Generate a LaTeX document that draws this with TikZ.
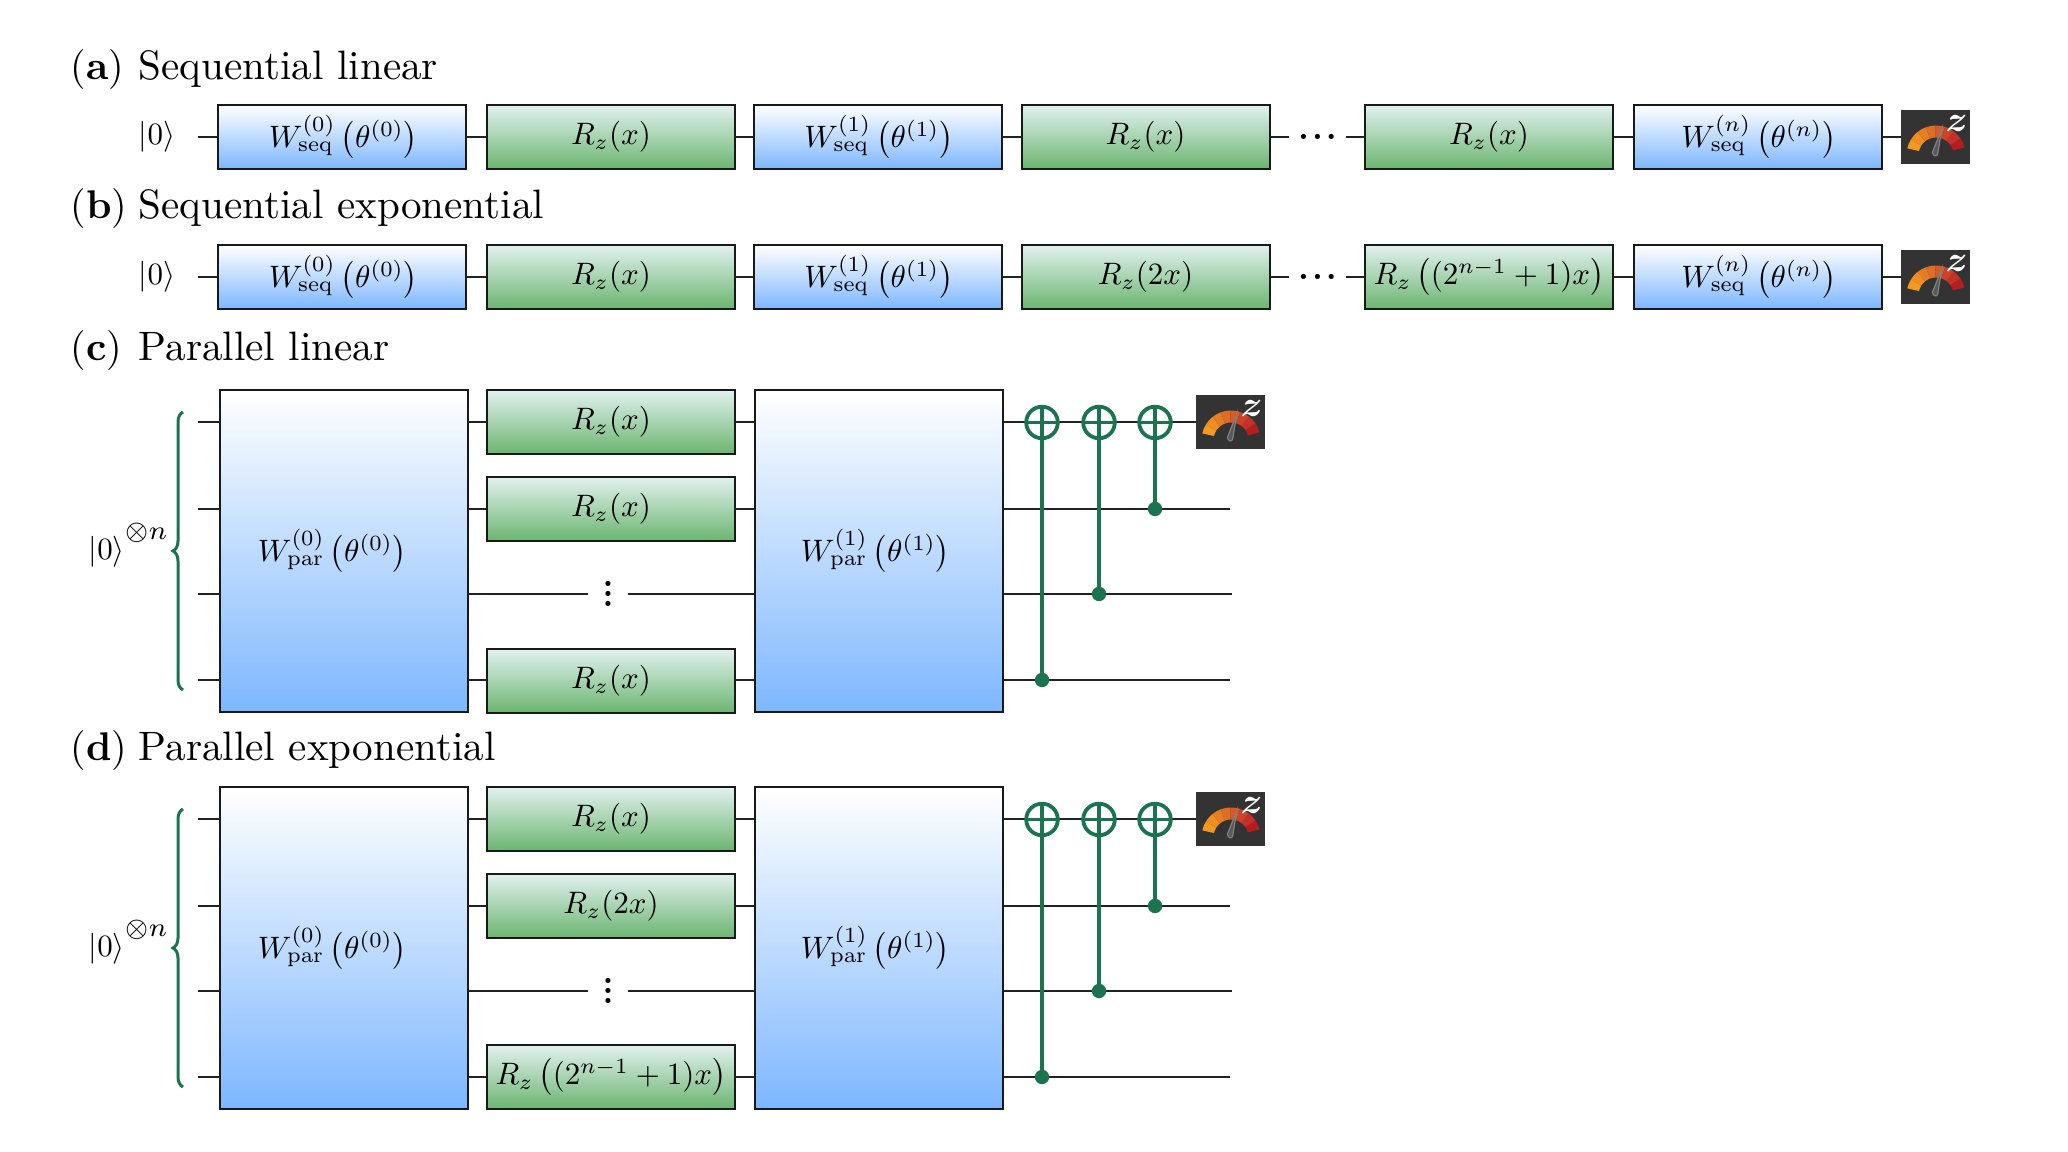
\documentclass[tikz,border=0pt]{standalone}
\usepackage{amsmath}
\usepackage{graphicx}
\usetikzlibrary{decorations.pathreplacing}
\definecolor{cgreen}{HTML}{1B7350}
\definecolor{wirec}{HTML}{222222}
\definecolor{mbg}{HTML}{333333}
\definecolor{blue1}{HTML}{7DB7FF}
\definecolor{green1}{HTML}{E1F1EF}
\definecolor{green2}{HTML}{6BB56F}
\tikzset{
  x=0.25pt,y=-0.25pt,
  gatebox/.style={draw=black!90,line width=0.5pt,inner sep=0pt,outer sep=0pt,minimum width=62pt,minimum height=16pt,text=black},
  bluebox/.style={gatebox,shade,top color=white,bottom color=blue1},
  greenbox/.style={gatebox,shade,top color=green1,bottom color=green2},
  bigbox/.style={bluebox,minimum height=80.5pt},
  wire/.style={draw=wirec,line width=0.5pt},
  heading/.style={anchor=base west,inner sep=0pt,text=black},
  txt/.style={inner sep=0pt,text=black},
  target/.style={circle,draw=cgreen,line width=0.95pt,minimum size=7.9pt,inner sep=0pt,outer sep=0pt},
  ctrl/.style={circle,fill=cgreen,minimum size=3.6pt,inner sep=0pt,outer sep=0pt},
  cnotline/.style={draw=cgreen,line width=0.85pt},
  gbrace/.style={draw=cgreen,line width=0.75pt,decorate,decoration={brace,amplitude=2.5pt,aspect=0.5}},
  meterbox/.style={fill=mbg,minimum width=17.25pt,minimum height=13.5pt,inner sep=0pt,outer sep=0pt},
}
\newcommand{\Mth}[1]{\raisebox{-0.25pt}{\scalebox{0.775}{$#1$}}}
\newcommand{\Wseq}[1]{\hspace*{0.75pt}\Mth{W^{(#1)}_{\mathrm{seq}}\left(\theta^{(#1)}\right)}}
\newcommand{\Wpar}[1]{\hspace*{0.75pt}\Mth{W^{(#1)}_{\mathrm{par}}\left(\theta^{(#1)}\right)}}
\newcommand{\KetN}{\Mth{|0\rangle\raisebox{6.7pt}{\scalebox{1.22}{$\scriptstyle\otimes n$}}}}
\newcommand{\Ttl}[1]{\scalebox{1.027}{#1}}
\newcommand{\Hd}{{\fontsize{8}{9}\selectfont\textbf{.}\kern.75pt\textbf{.}\kern.75pt\textbf{.}}}
\newcommand{\Vd}{\vbox{\fontsize{8}{9}\selectfont\baselineskip=2.5pt\lineskiplimit=-10pt\hbox{\textbf{.}}\hbox{\textbf{.}}\hbox{\textbf{.}}}}
\newcommand{\MeterDraw}[3]{%
  \node[meterbox] (#1) at (#2,#3) {};
  \begin{scope}[shift={(#1.center)},x=0.25pt,y=0.25pt]
    \foreach \i/\c in {0/F29A1F,1/EE8E22,2/E57D24,3/DC6E26,4/D75A28,5/CC4328,6/C4312A,7/B51E1E}{
      \definecolor{segc}{HTML}{\c}
      \pgfmathsetmacro{\aa}{167-19*\i}
      \pgfmathsetmacro{\bb}{167-19*(\i+1)}
      \fill[segc] ([shift={(0.5,-18)}]\aa:29.5) arc (\aa:\bb:29.5) -- ([shift={(0.5,-18)}]\bb:17.5) arc (\bb:\aa:17.5) -- cycle;
    }
    \fill[mbg!50!gray,draw=gray,line width=0.3pt] (6.2,8) -- (2.2,-17.1) .. controls (1.4,-20) and (-2.2,-19.5) .. (-3.2,-15.5) -- cycle;
    \node[inner sep=0pt,text=white] at (21.2,13) {\fontsize{9}{10}\selectfont$\boldsymbol{z}$};
  \end{scope}}
\begin{document}
\begin{tikzpicture}
\useasboundingbox (0,0) rectangle (2068,1152);
% headings
\node[heading] (ha) at (70,80) {(\textbf{a})};
\node[heading] (hat) at (138,80) {\Ttl{Sequential linear}};
\node[heading] (hb) at (70,219) {(\textbf{b})};
\node[heading] (hbt) at (138,219) {\Ttl{Sequential exponential}};
\node[heading] (hc) at (70,361) {(\textbf{c})};
\node[heading] (hct) at (138,361) {\Ttl{Parallel linear}};
\node[heading] (hd) at (70,761) {(\textbf{d})};
\node[heading] (hdt) at (138,761) {\Ttl{Parallel exponential}};
% row a
\node[txt] (ka) at (157,137) {\Mth{|0\rangle}};
\coordinate (ia) at (198,137);
\node[bluebox] (a1) at (342,137) {\Wseq{0}};
\node[greenbox] (a2) at (611,137) {\Mth{R_z(x)}};
\node[bluebox] (a3) at (877.5,137) {\Wseq{1}};
\node[greenbox] (a4) at (1145.5,137) {\Mth{R_z(x)}};
\node[txt,minimum width=13.75pt] (ad) at (1317.5,137) {\Hd};
\node[greenbox] (a5) at (1489,137) {\Mth{R_z(x)}};
\node[bluebox] (a6) at (1757.5,137) {\Wseq{n}};
\MeterDraw{am}{1935.5}{137}
\draw[wire] (ia) -- (a1) (a1) -- (a2) (a2) -- (a3) (a3) -- (a4) (a4) -- (ad) (ad) -- (a5) (a5) -- (a6) (a6) -- (am);
% row b
\node[txt] (kb) at (157,277) {\Mth{|0\rangle}};
\coordinate (ib) at (198,277);
\node[bluebox] (b1) at (342,277) {\Wseq{0}};
\node[greenbox] (b2) at (611,277) {\Mth{R_z(x)}};
\node[bluebox] (b3) at (877.5,277) {\Wseq{1}};
\node[greenbox] (b4) at (1145.5,277) {\Mth{R_z(2x)}};
\node[txt,minimum width=13.75pt] (bd) at (1317.5,277) {\Hd};
\node[greenbox] (b5) at (1489,277) {\Mth{R_z\left((2^{n-1}+1)x\right)}};
\node[bluebox] (b6) at (1757.5,277) {\Wseq{n}};
\MeterDraw{bm}{1935.5}{277}
\draw[wire] (ib) -- (b1) (b1) -- (b2) (b2) -- (b3) (b3) -- (b4) (b4) -- (bd) (bd) -- (b5) (b5) -- (b6) (b6) -- (bm);
% row c
\node[txt,anchor=base] (kc) at (128,559) {\KetN};
\coordinate (bct) at (183,412);
\coordinate (bcb) at (183,690);
\draw[gbrace] (bcb) -- (bct);
\node[bigbox] (c1) at (343.5,551) {};
\node[txt] (c1t) at (331,551) {\Wpar{0}};
\node[greenbox] (c2) at (611,422) {\Mth{R_z(x)}};
\node[greenbox] (c3) at (611,509) {\Mth{R_z(x)}};
\node[txt,minimum width=9.5pt] (cv) at (608,594) {\Vd};
\node[greenbox] (c4) at (611,681) {\Mth{R_z(x)}};
\node[bigbox] (c5) at (878.5,551) {};
\node[txt] (c5t) at (874,551) {\Wpar{1}};
\MeterDraw{cm}{1230.5}{422}
\coordinate (ci1) at (198,422);
\coordinate (ci2) at (198,509);
\coordinate (ci3) at (198,594);
\coordinate (ci4) at (198,680);
\coordinate (ce2) at (1230,509);
\coordinate (ce3) at (1232,594);
\coordinate (ce4) at (1230,680);
\draw[wire] (ci1) -- (c1.west |- ci1) (ci2) -- (c1.west |- ci2) (ci3) -- (c1.west |- ci3) (ci4) -- (c1.west |- ci4);
\draw[wire] (c1.east |- c2.west) -- (c2.west) (c2.east) -- (c5.west |- c2.east);
\draw[wire] (c1.east |- c3.west) -- (c3.west) (c3.east) -- (c5.west |- c3.east);
\draw[wire] (c1.east |- ci3) -- (cv.west) (cv.east) -- (c5.west |- ci3);
\draw[wire] (c1.east |- ci4) -- (c4.west |- ci4) (c4.east |- ci4) -- (c5.west |- ci4);
\draw[wire] (c5.east |- cm.west) -- (cm.west) (c5.east |- ce2) -- (ce2) (c5.east |- ce3) -- (ce3) (c5.east |- ce4) -- (ce4);
\node[target] (ct1) at (1042,422.5) {};
\node[target] (ct2) at (1099,422.5) {};
\node[target] (ct3) at (1155,422.5) {};
\node[ctrl] (cc1) at (1042,680) {};
\node[ctrl] (cc2) at (1099,594) {};
\node[ctrl] (cc3) at (1155,509) {};
\draw[cnotline] (ct1.north) -- (cc1) (ct2.north) -- (cc2) (ct3.north) -- (cc3);
\draw[cnotline] (ct1.west) -- (ct1.east) (ct2.west) -- (ct2.east) (ct3.west) -- (ct3.east);
% row d
\node[txt,anchor=base] (kd) at (128,956) {\KetN};
\coordinate (bdt) at (183,809);
\coordinate (bdb) at (183,1087);
\draw[gbrace] (bdb) -- (bdt);
\node[bigbox] (d1) at (343.5,948) {};
\node[txt] (d1t) at (331,948) {\Wpar{0}};
\node[greenbox] (d2) at (611,819) {\Mth{R_z(x)}};
\node[greenbox] (d3) at (611,906) {\Mth{R_z(2x)}};
\node[txt,minimum width=9.5pt] (dv) at (608,991) {\Vd};
\node[greenbox] (d4) at (611,1077) {\Mth{R_z\left((2^{n-1}+1)x\right)}};
\node[bigbox] (d5) at (878.5,948) {};
\node[txt] (d5t) at (874,948) {\Wpar{1}};
\MeterDraw{dm}{1230.5}{819}
\coordinate (di1) at (198,819);
\coordinate (di2) at (198,906);
\coordinate (di3) at (198,991);
\coordinate (di4) at (198,1077);
\coordinate (de2) at (1230,906);
\coordinate (de3) at (1232,991);
\coordinate (de4) at (1230,1077);
\draw[wire] (di1) -- (d1.west |- di1) (di2) -- (d1.west |- di2) (di3) -- (d1.west |- di3) (di4) -- (d1.west |- di4);
\draw[wire] (d1.east |- d2.west) -- (d2.west) (d2.east) -- (d5.west |- d2.east);
\draw[wire] (d1.east |- d3.west) -- (d3.west) (d3.east) -- (d5.west |- d3.east);
\draw[wire] (d1.east |- di3) -- (dv.west) (dv.east) -- (d5.west |- di3);
\draw[wire] (d1.east |- d4.west) -- (d4.west) (d4.east) -- (d5.west |- d4.east);
\draw[wire] (d5.east |- dm.west) -- (dm.west) (d5.east |- de2) -- (de2) (d5.east |- de3) -- (de3) (d5.east |- de4) -- (de4);
\node[target] (dt1) at (1042,819.5) {};
\node[target] (dt2) at (1099,819.5) {};
\node[target] (dt3) at (1155,819.5) {};
\node[ctrl] (dc1) at (1042,1077) {};
\node[ctrl] (dc2) at (1099,991) {};
\node[ctrl] (dc3) at (1155,906) {};
\draw[cnotline] (dt1.north) -- (dc1) (dt2.north) -- (dc2) (dt3.north) -- (dc3);
\draw[cnotline] (dt1.west) -- (dt1.east) (dt2.west) -- (dt2.east) (dt3.west) -- (dt3.east);
\end{tikzpicture}
\end{document}
